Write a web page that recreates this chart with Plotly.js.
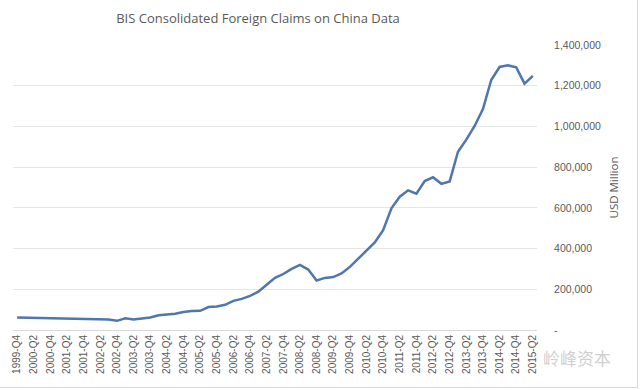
<!DOCTYPE html>
<html>
<head>
<meta charset="utf-8">
<script src="https://cdn.plot.ly/plotly-3.0.1.min.js"></script>
<style>
  html, body { margin: 0; padding: 0; background: #ffffff; }
  #frame { position: absolute; left: 0; top: 0; width: 637px; height: 387px; border-right: 1px solid #d9d9d9; border-bottom: 1px solid #d9d9d9; }
  #chart { position: absolute; left: 0; top: 0; width: 641px; height: 390px; }
</style>
</head>
<body>
<div id="chart"></div>
<div id="frame"></div>
<script>
const quarters = [];
for (let y = 1999; y <= 2015; y++) {
  for (let q = 1; q <= 4; q++) {
    if (y === 1999 && q < 4) continue;
    if (y === 2015 && q > 2) continue;
    quarters.push(y + '-Q' + q);
  }
}

const claims = [
  61000, 60500, 60000, 58500, 58000, 57500, 56000, 55000, 57000, 55000,
  54000, 52000, 45000, 58000, 52000, 57000, 61000, 72000, 76000, 80000,
  88000, 93000, 94000, 113000, 116000, 124000, 143000, 153000, 168000, 188000,
  222000, 256000, 275000, 300000, 320000, 297000, 243000, 256000, 260000, 278000,
  310000, 350000, 385000, 430000, 490000, 598000, 655000, 686000, 670000, 732000,
  750000, 718000, 730000, 876000, 935000, 1002000, 1085000, 1228000, 1292000, 1300000,
  1290000, 1210000, 1248000
];

const yTickVals = [0, 200000, 400000, 600000, 800000, 1000000, 1200000, 1400000];
const yTickText = ['-', '200,000', '400,000', '600,000', '800,000', '1,000,000', '1,200,000', '1,400,000'];

const xTickVals = quarters.filter((q, i) => i % 2 === 0);

const trace = {
  x: quarters,
  y: claims,
  type: 'scatter',
  mode: 'lines',
  line: { color: '#4f76ad', width: 2.5 },
  hoverinfo: 'x+y'
};

const layout = {
  width: 641,
  height: 390,
  margin: { l: 13, r: 104, t: 45, b: 60 },
  paper_bgcolor: '#ffffff',
  plot_bgcolor: '#ffffff',
  font: { family: 'Open Sans, Liberation Sans, sans-serif', color: '#595959' },
  showlegend: false,
  title: {
    text: 'BIS Consolidated Foreign Claims on China Data',
    font: { size: 13, color: '#595959', family: 'Open Sans, sans-serif' },
    xref: 'container', x: 0.4025, xanchor: 'center',
    y: 0.953, yanchor: 'middle'
  },
  xaxis: {
    type: 'category',
    tickmode: 'array',
    tickvals: xTickVals,
    ticktext: xTickVals,
    tickangle: -90,
    tickfont: { size: 10, color: '#595959', family: 'Liberation Sans, sans-serif' },
    showgrid: false,
    showline: true,
    linecolor: '#d9d9d9',
    linewidth: 1,
    ticks: '',
    zeroline: false,
    range: [-0.5, quarters.length - 0.5],
    fixedrange: true
  },
  yaxis: {
    side: 'right',
    range: [0, 1400000],
    tickmode: 'array',
    tickvals: yTickVals,
    ticktext: yTickText,
    tickfont: { size: 10.5, color: '#595959', family: 'Liberation Sans, sans-serif' },
    showgrid: true,
    gridcolor: '#e6e6e6',
    gridwidth: 1,
    zeroline: false,
    showline: false,
    ticks: 'outside',
    ticklen: 14,
    tickcolor: 'rgba(0,0,0,0)',
    title: {
      text: 'USD Million',
      font: { size: 11.5, color: '#595959', family: 'Open Sans, sans-serif' },
      standoff: 9
    },
    fixedrange: true
  },
  annotations: [
    {
      xref: 'paper', yref: 'paper',
      x: 1.145, y: -0.098,
      xanchor: 'right', yanchor: 'middle',
      text: '岭峰资本',
      showarrow: false,
      font: { size: 17, color: '#d0d0d0', family: 'Noto Sans CJK SC, sans-serif' }
    }
  ]
};

Plotly.newPlot('chart', [trace], layout, { displayModeBar: false, staticPlot: true });
</script>
</body>
</html>
